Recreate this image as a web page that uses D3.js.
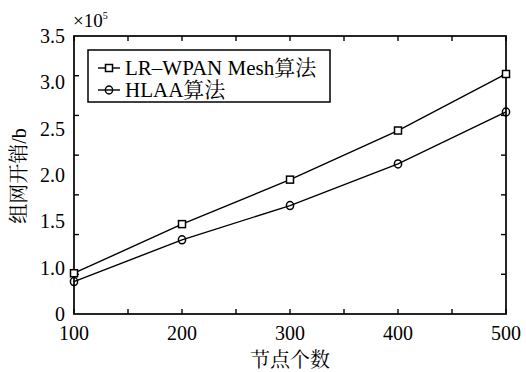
<!DOCTYPE html>
<html><head><meta charset="utf-8">
<script src="https://cdn.jsdelivr.net/npm/d3@7"></script>
<style>body{margin:0;background:#fff}svg{display:block}
.sf{font-family:"Liberation Serif","DejaVu Serif","Times New Roman",serif}
.cj{font-family:"Liberation Serif","Noto Serif CJK SC","Noto Sans CJK SC","DejaVu Serif",serif}
</style>
</head><body>
<script>
const nodes = [100, 200, 300, 400, 500];
const lrwpan = [0.94, 1.47, 1.95, 2.48, 3.09];
const hlaa = [0.85, 1.30, 1.67, 2.12, 2.68];
const seriesNames = ["LR\u2013WPAN Mesh算法", "HLAA算法"];
const yTickValues = [0.5, 1.0, 1.5, 2.0, 2.5, 3.0, 3.5];
const yTickLabels = ["0", "1.0", "1.5", "2.0", "2.5", "3.0", "3.5"];
const xTickValues = [100, 200, 300, 400, 500];
const xMinorTicks = [100,150,200,250,300,350,400,450,500];
const yMarkCount = 7; // intervals of tick marks on the frame

const W = 526, H = 372;
const m = {l: 74, r: 20, t: 36, b: 58};
const svg = d3.select("body").append("svg").attr("width", W).attr("height", H);

const x = d3.scaleLinear().domain([100, 500]).range([m.l, W - m.r]);
const y = d3.scaleLinear().domain([0.5, 3.5]).range([H - m.b, m.t]);
const yMark = d3.scaleLinear().domain([0, yMarkCount]).range([H - m.b, m.t]);

const g = svg.append("g");
g.append("rect").attr("x", m.l).attr("y", m.t).attr("width", W - m.r - m.l).attr("height", H - m.b - m.t)
  .attr("fill", "none").attr("stroke", "#000").attr("stroke-width", 1.7);

const tl = 5;
xMinorTicks.forEach(v => {
  g.append("line").attr("x1", x(v)).attr("x2", x(v)).attr("y1", H - m.b).attr("y2", H - m.b - tl).attr("stroke", "#000").attr("stroke-width", 1.4);
  g.append("line").attr("x1", x(v)).attr("x2", x(v)).attr("y1", m.t).attr("y2", m.t + tl).attr("stroke", "#000").attr("stroke-width", 1.4);
});
d3.range(1, yMarkCount).forEach(i => {
  g.append("line").attr("x1", m.l).attr("x2", m.l + tl).attr("y1", yMark(i)).attr("y2", yMark(i)).attr("stroke", "#000").attr("stroke-width", 1.4);
  g.append("line").attr("x1", W - m.r).attr("x2", W - m.r - tl).attr("y1", yMark(i)).attr("y2", yMark(i)).attr("stroke", "#000").attr("stroke-width", 1.4);
});

xTickValues.forEach(v => {
  g.append("text").attr("class", "sf").attr("x", x(v)).attr("y", 340).attr("text-anchor", "middle")
    .attr("font-size", 20).text(v);
});
yTickValues.forEach((v, i) => {
  g.append("text").attr("class", "sf").attr("x", m.l - 9).attr("y", y(v) + 7).attr("text-anchor", "end")
    .attr("font-size", 20).text(yTickLabels[i]);
});

const sc = g.append("text").attr("class", "sf").attr("x", m.l - 1).attr("y", 27).attr("font-size", 19);
sc.append("tspan").text("×10");
sc.append("tspan").attr("dy", -8).attr("font-size", 10).text("5");

g.append("text").attr("class", "cj").attr("x", x(300)).attr("y", 367).attr("text-anchor", "middle")
  .attr("font-size", 20).text("节点个数");
g.append("text").attr("class", "cj").attr("transform", `translate(26,176) rotate(-90)`).attr("text-anchor", "middle")
  .attr("font-size", 20).text("组网开销/b");

const line = d3.line().x((d, i) => x(nodes[i])).y(d => y(d));
[lrwpan, hlaa].forEach(s => {
  g.append("path").datum(s).attr("d", line).attr("fill", "none").attr("stroke", "#000").attr("stroke-width", 1.4);
});
function square(sel, cx, cy) {
  sel.append("rect").attr("x", cx - 3.5).attr("y", cy - 3.5).attr("width", 7).attr("height", 7)
    .attr("fill", "#fff").attr("stroke", "#000").attr("stroke-width", 1.5);
}
function circle(sel, cx, cy) {
  sel.append("ellipse").attr("cx", cx).attr("cy", cy).attr("rx", 3.6).attr("ry", 4)
    .attr("fill", "none").attr("stroke", "#000").attr("stroke-width", 1.5);
}
lrwpan.forEach((v, i) => square(g, x(nodes[i]), y(v)));
hlaa.forEach((v, i) => circle(g, x(nodes[i]), y(v)));

const lg = g.append("g");
lg.append("rect").attr("x", 88).attr("y", 50).attr("width", 242).attr("height", 52)
  .attr("fill", "#fff").attr("stroke", "#000").attr("stroke-width", 1.5);
[0, 1].forEach(i => {
  const cy = 68 + i * 22;
  lg.append("line").attr("x1", 98).attr("x2", 120).attr("y1", cy).attr("y2", cy).attr("stroke", "#000").attr("stroke-width", 1.4);
  if (i === 0) square(lg, 109, cy); else circle(lg, 109, cy);
  lg.append("text").attr("class", "cj").attr("x", 125).attr("y", cy + 7).attr("font-size", 21).text(seriesNames[i]);
});
</script>
</body></html>
